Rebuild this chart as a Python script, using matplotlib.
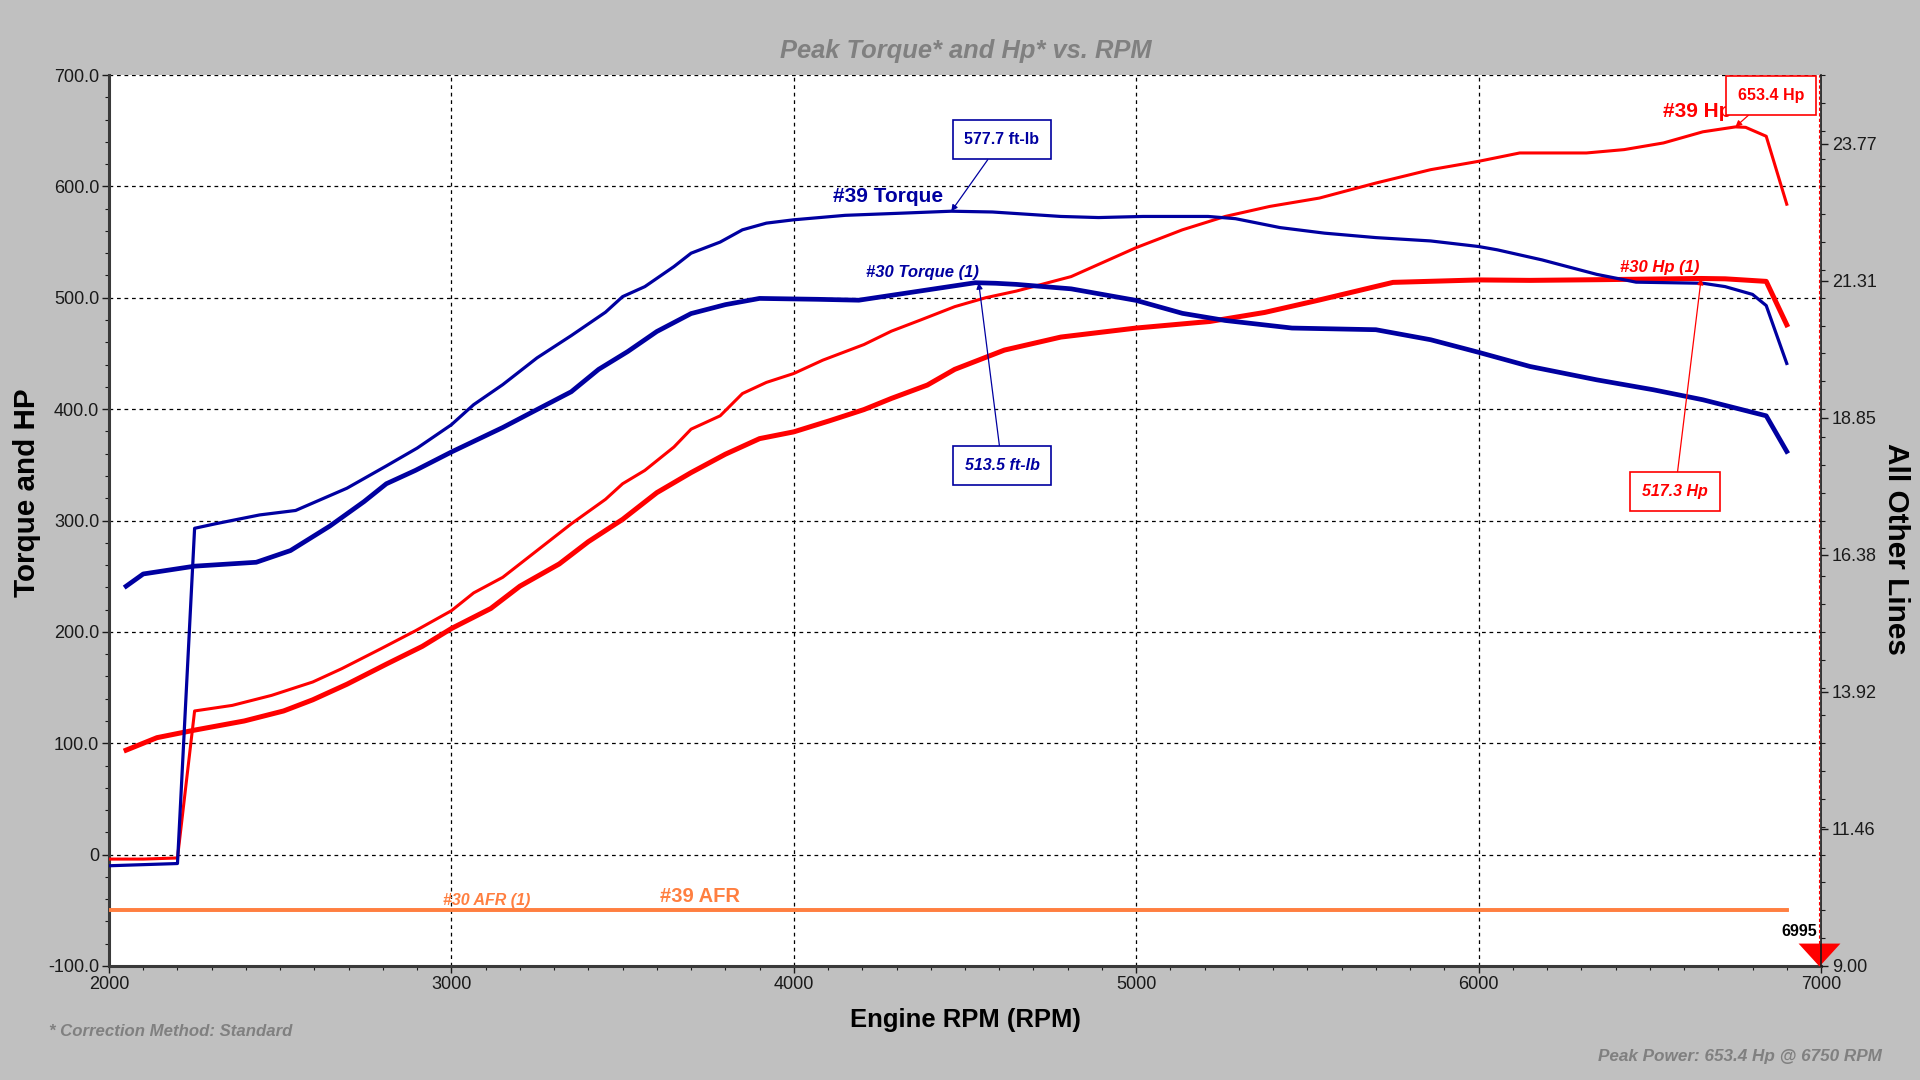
import matplotlib
matplotlib.use("Agg")
import matplotlib.pyplot as plt
from matplotlib import font_manager
from matplotlib.ticker import MultipleLocator, FixedLocator

# ---------------- data ----------------
rpm39_tq = [2000, 2100, 2200, 2250, 2310, 2440, 2545, 2695, 2810, 2900, 3000, 3065, 3150,
            3250, 3350, 3450, 3500, 3565, 3650, 3700, 3785, 3850, 3920, 4000, 4150, 4320,
            4460, 4580, 4780, 4890, 5020, 5210, 5290, 5420, 5550, 5700, 5860, 6000, 6055,
            6185, 6345, 6460, 6655, 6720, 6800, 6840, 6900]
tq39 = [-10, -9, -8, 293, 297, 305, 309, 329, 349, 365, 386, 404, 422,
        446, 466, 487, 501, 510, 528, 540, 550, 561, 567, 570, 574, 576,
        577.7, 577, 573, 572, 573, 573, 571, 563, 558, 554, 551, 546, 543,
        534, 521, 514, 513, 510, 503, 493, 441]

rpm30_tq = [2050, 2100, 2250, 2430, 2530, 2645, 2745, 2810, 2895, 3000, 3150, 3250, 3350,
            3430, 3515, 3600, 3700, 3800, 3900, 4070, 4190, 4320, 4530, 4590, 4650, 4810,
            5000, 5135, 5260, 5455, 5700, 5860, 6000, 6150, 6345, 6510, 6655, 6840, 6900]
tq30 = [241, 252, 259, 262.5, 273, 295, 317, 333, 345, 361.5, 383.5, 399.6, 415.6,
        435.7, 451.7, 469.7, 485.8, 493.8, 499.4, 498.6, 497.8, 503.8, 513.5, 513, 512, 508,
        497.6, 486, 479.6, 472.8, 471.3, 462.3, 451, 438.3, 426.3, 417.4, 408.4, 394, 362]

rpm39_hp = [2000, 2100, 2200, 2250, 2360, 2475, 2595, 2680, 2795, 2895, 3000, 3065, 3150,
            3250, 3350, 3450, 3500, 3565, 3650, 3700, 3785, 3850, 3920, 4000, 4085, 4205,
            4285, 4370, 4470, 4560, 4650, 4810, 5000, 5135, 5260, 5390, 5535, 5700, 5860,
            6000, 6120, 6315, 6425, 6540, 6655, 6750, 6780, 6840, 6900]
hp39 = [-4, -4, -3, 129, 134, 143, 155, 167, 185, 201, 219, 235, 249,
        273, 297, 319, 333, 345, 366, 382, 394, 414, 424, 432, 444, 458,
        470, 480, 492, 500, 506, 519, 545, 561, 573, 582, 589.5, 603, 615,
        622.5, 630, 630, 633, 639, 649, 653.4, 653, 645, 584]

rpm30_hp = [2050, 2140, 2250, 2395, 2510, 2595, 2695, 2810, 2915, 3000, 3115, 3200, 3315,
            3400, 3500, 3600, 3700, 3800, 3900, 4000, 4105, 4205, 4285, 4390, 4470, 4615,
            4780, 5000, 5215, 5375, 5535, 5750, 6000, 6150, 6345, 6650, 6720, 6840, 6900]
hp30 = [93.8, 105, 111.8, 120, 129, 139, 153, 171, 187, 203, 221, 241, 261,
        281, 301, 325, 343, 359.5, 373.5, 379.6, 389.6, 399.6, 409.6, 421.6, 435.7, 453,
        464.7, 472.8, 478.7, 486.8, 498, 513.8, 516, 515.6, 516.2, 517.3, 517, 514.7, 475.7]

rpm_afr = [2000, 6900]
afr39 = [10.0, 10.0]
afr30 = [10.0, 10.0]

left_ticks = [-100, 0, 100, 200, 300, 400, 500, 600, 700]
left_labels = ["-100.0", "0", "100.0", "200.0", "300.0", "400.0", "500.0", "600.0", "700.0"]
right_ticks = [9.0, 11.4615, 13.9231, 16.3846, 18.8462, 21.3077, 23.7692]
right_labels = ["9.00", "11.46", "13.92", "16.38", "18.85", "21.31", "23.77"]
x_ticks = [2000, 3000, 4000, 5000, 6000, 7000]
x_labels = ["2000", "3000", "4000", "5000", "6000", "7000"]
cursor_rpm = 6995

# ---------------- style ----------------
names = {f.name for f in font_manager.fontManager.ttflist}
BASE = "Liberation Sans" if "Liberation Sans" in names else "DejaVu Sans"
NARROW = "Liberation Sans Narrow" if "Liberation Sans Narrow" in names else BASE
plt.rcParams["font.family"] = [BASE, "DejaVu Sans"]

BLUE = "#0000A0"
RED = "#FF0000"
ORANGE = "#FF7F40"
GRAY = "#808080"
W, H = 1920, 1080

fig = plt.figure(figsize=(19.2, 10.8), dpi=100, facecolor="#C0C0C0")
ax = fig.add_axes([109 / W, 1 - 966 / H, (1821 - 109) / W, (966 - 75) / H])
ax.set_facecolor("white")
ax.set_xlim(2000, 7000)
ax.set_ylim(-100, 700)

ax.yaxis.set_major_locator(FixedLocator(left_ticks))
ax.set_yticklabels(left_labels)
ax.yaxis.set_minor_locator(MultipleLocator(20))
ax.xaxis.set_major_locator(FixedLocator(x_ticks))
ax.set_xticklabels(x_labels)
ax.xaxis.set_minor_locator(MultipleLocator(100))
ax.tick_params(axis="both", which="major", direction="out", length=5, width=1,
               labelsize=13, colors="#1a1a1a", pad=2)
ax.tick_params(axis="both", which="minor", direction="out", length=3, width=0.8,
               colors="#1a1a1a")
ax.grid(True, which="major", color="black", linestyle=(0, (3, 3)), linewidth=0.9)

for s in ["left", "bottom"]:
    ax.spines[s].set_color("#3a3a3a")
    ax.spines[s].set_linewidth(2.2)
ax.spines["top"].set_visible(False)
ax.spines["right"].set_visible(False)

# torque & hp lines
ax.plot(rpm30_hp, hp30, color=RED, lw=3.6, solid_joinstyle="round", zorder=3)
ax.plot(rpm39_hp, hp39, color=RED, lw=2.2, solid_joinstyle="round", zorder=3)
ax.plot(rpm30_tq, tq30, color=BLUE, lw=3.4, solid_joinstyle="round", zorder=3)
ax.plot(rpm39_tq, tq39, color=BLUE, lw=2.3, solid_joinstyle="round", zorder=3)

ax.axvline(cursor_rpm, color=RED, lw=0.8, linestyle=(0, (3, 2)), zorder=4)

# right axis
ax2 = ax.twinx()
ax2.set_ylim(9, 25)
ax2.yaxis.set_major_locator(FixedLocator(right_ticks))
ax2.set_yticklabels(right_labels)
ax2.yaxis.set_minor_locator(MultipleLocator(0.5))
ax2.tick_params(axis="y", which="major", direction="out", length=5, width=1,
                labelsize=13, colors="#1a1a1a", pad=3)
ax2.tick_params(axis="y", which="minor", direction="out", length=3, width=0.8,
                colors="#1a1a1a")
ax2.spines["right"].set_color("#1a1a1a")
ax2.spines["right"].set_linewidth(1.2)
for s in ["left", "top", "bottom"]:
    ax2.spines[s].set_visible(False)
ax2.plot(rpm_afr, afr30, color=ORANGE, lw=2.6, zorder=3)
ax2.plot(rpm_afr, afr39, color=ORANGE, lw=2.6, zorder=3)

# triangle cursor marker
tri = [(-21, 23), (21, 23), (0, 0)]
ax.plot([cursor_rpm], [-100], marker=tri, markersize=33, color=RED,
        markeredgewidth=0, clip_on=False, zorder=10)
ax.text(6990, -69, "6995", ha="right", va="center", fontsize=11.5,
        fontweight="bold", color="black", zorder=9)

# series labels
ax.text(4115, 591, "#39 Torque", ha="left", va="center", fontsize=15,
        fontweight="bold", color=BLUE)
ax.text(4211, 523, "#30 Torque (1)", ha="left", va="center", fontsize=12,
        fontweight="bold", fontstyle="italic", color=BLUE)
ax.text(6540, 667, "#39 Hp", ha="left", va="center", fontsize=15,
        fontweight="bold", color=RED)
ax.text(6413, 527, "#30 Hp (1)", ha="left", va="center", fontsize=12,
        fontweight="bold", fontstyle="italic", color=RED)
ax.text(2975, -41, "#30 AFR (1)", ha="left", va="center", fontsize=11.5,
        fontweight="bold", fontstyle="italic", color=ORANGE)
ax.text(3609, -38, "#39 AFR", ha="left", va="center", fontsize=14.5,
        fontweight="bold", color=ORANGE)


def callout(text, xy, xytext, color, italic):
    ax.annotate(text, xy=xy, xytext=xytext, ha="center", va="center",
                fontsize=11.5, fontweight="bold",
                fontstyle="italic" if italic else "normal", color=color,
                bbox=dict(boxstyle="square,pad=0.75", fc="white", ec=color, lw=1.2),
                arrowprops=dict(arrowstyle="-|>", color=color, lw=0.9,
                                mutation_scale=9, shrinkA=0, shrinkB=0),
                zorder=8, annotation_clip=False)


callout("577.7 ft-lb", (4460, 577.7), (4608, 642), BLUE, False)
callout("513.5 ft-lb", (4540, 513.5), (4608, 349), BLUE, True)
callout("653.4 Hp", (6750, 653.4), (6854, 682), RED, False)
callout("517.3 Hp", (6650, 517.3), (6574, 326), RED, True)

# figure texts
t_title = fig.text(966 / W, 1 - 51 / H, "Peak Torque* and Hp* vs. RPM", ha="center",
                   va="center", fontsize=20, fontweight="bold", fontstyle="italic",
                   color=GRAY, family=[NARROW, "DejaVu Sans"])
t_x = fig.text(965 / W, 1 - 1020 / H, "Engine RPM (RPM)", ha="center", va="center",
               fontsize=20, fontweight="bold", color="black", family=[NARROW, "DejaVu Sans"])
t_yl = fig.text(27 / W, 1 - 493 / H, "Torque and HP", ha="center", va="center",
                rotation=90, fontsize=19, fontweight="bold", color="black")
t_yr = fig.text(1896 / W, 1 - 549 / H, "All Other Lines", ha="center", va="center",
                rotation=270, fontsize=19, fontweight="bold", color="black")
t_fn1 = fig.text(49 / W, 1 - 1031 / H, "* Correction Method: Standard", ha="left",
                 va="center", fontsize=13, fontstyle="italic", fontweight="bold",
                 color=GRAY, family=[NARROW, "DejaVu Sans"])
t_fn2 = fig.text(1882 / W, 1 - 1056 / H, "Peak Power: 653.4 Hp @ 6750 RPM", ha="right",
                 va="center", fontsize=13, fontstyle="italic", fontweight="bold",
                 color=GRAY, family=[NARROW, "DejaVu Sans"])

# fit text lengths to reference pixel sizes
renderer = fig.canvas.get_renderer()
for t, target, horiz in [(t_title, 371, True), (t_x, 231, True), (t_yl, 208, False),
                         (t_yr, 212, False), (t_fn1, 242, True), (t_fn2, 283, True)]:
    bb = t.get_window_extent(renderer)
    cur = bb.width if horiz else bb.height
    if cur > 0:
        t.set_fontsize(t.get_fontsize() * target / cur)

fig.savefig("out.png", dpi=100, facecolor=fig.get_facecolor())
